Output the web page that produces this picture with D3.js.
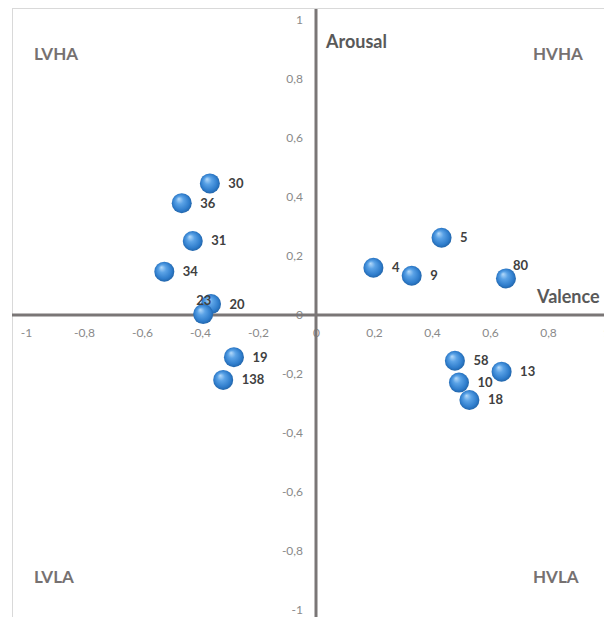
<!DOCTYPE html>
<html>
<head>
<meta charset="utf-8">
<script src="https://cdn.jsdelivr.net/npm/d3@7"></script>
<style>
  html, body { margin: 0; padding: 0; background: #fff; }
  svg { display: block; font-family: Lato, "Open Sans", sans-serif; }
</style>
</head>
<body>
<svg id="chart" width="604" height="617"></svg>
<script>
// ---- data ----
const pointLabels = ["30","36","31","34","20","23","19","138","5","4","9","80","58","13","10","18"];
const valence = [-0.366,-0.463,-0.425,-0.523,-0.362,-0.389,-0.283,-0.320,0.433,0.198,0.330,0.655,0.479,0.640,0.493,0.529];
const arousal = [0.446,0.379,0.251,0.147,0.037,0.003,-0.143,-0.220,0.262,0.160,0.133,0.124,-0.155,-0.192,-0.229,-0.288];
const xTicks = [-1,-0.8,-0.6,-0.4,-0.2,0,0.2,0.4,0.6,0.8,1];
const yTicks = [-1,-0.8,-0.6,-0.4,-0.2,0,0.2,0.4,0.6,0.8,1];
const quadrantNames = ["LVHA","HVHA","LVLA","HVLA"];
const axisNames = ["Arousal","Valence"];

const svg = d3.select("#chart");
const W = 604, H = 617;

const x = d3.scaleLinear().domain([-1, 1]).range([26, 606]);
const y = d3.scaleLinear().domain([-1, 1]).range([610, 20]);
const fmt = v => String(+v.toFixed(1)).replace(".", ",");

// frame
svg.append("rect").attr("x", 12.5).attr("y", 8.5).attr("width", 800).attr("height", 800)
  .attr("fill", "#fff").attr("stroke", "#d9d9d9").attr("stroke-width", 1);

// gradient
const defs = svg.append("defs");
const grad = defs.append("radialGradient").attr("id", "ball")
  .attr("cx", "50%").attr("cy", "50%").attr("r", "55%").attr("fx", "35%").attr("fy", "28%");
grad.append("stop").attr("offset", "0%").attr("stop-color", "#b5dafa");
grad.append("stop").attr("offset", "35%").attr("stop-color", "#5aa2e6");
grad.append("stop").attr("offset", "75%").attr("stop-color", "#2f7dcc");
grad.append("stop").attr("offset", "100%").attr("stop-color", "#1d5d9f");

// tick labels
const xAxis = svg.append("g").attr("transform", `translate(0,${y(0)})`)
  .call(d3.axisBottom(x).tickValues(xTicks).tickFormat(fmt).tickSize(0).tickPadding(13));
const yAxis = svg.append("g").attr("transform", `translate(${x(0)},0)`)
  .call(d3.axisLeft(y).tickValues(yTicks).tickFormat(fmt).tickSize(0).tickPadding(13));
[xAxis, yAxis].forEach(g => {
  g.select(".domain").remove();
  g.selectAll("text").attr("fill", "#8a8a8a").style("font-size", "12px")
    .style("font-family", "Lato, 'Open Sans', sans-serif");
});

// axis lines
svg.append("line").attr("x1", 12).attr("x2", W).attr("y1", y(0)).attr("y2", y(0))
  .attr("stroke", "#7a7676").attr("stroke-width", 3);
svg.append("line").attr("x1", x(0)).attr("x2", x(0)).attr("y1", 9).attr("y2", H)
  .attr("stroke", "#7a7676").attr("stroke-width", 3);

// quadrant labels
const quadPos = [[34, 60], [533, 60], [34, 583], [533, 583]];
quadrantNames.forEach((t, i) => {
  svg.append("text").attr("x", quadPos[i][0]).attr("y", quadPos[i][1]).text(t)
    .attr("fill", "#767171").style("font-size", "17px").style("font-weight", "bold");
});
const axisPos = [[326, 48], [537, 303]];
axisNames.forEach((t, i) => {
  svg.append("text").attr("x", axisPos[i][0]).attr("y", axisPos[i][1]).text(t)
    .attr("fill", "#595959").style("font-size", "18px").style("font-weight", "bold");
});

// points
const pts = pointLabels.map((l, i) => ({ label: l, vx: valence[i], vy: arousal[i] }));
svg.append("g").selectAll("circle").data(pts).join("circle")
  .attr("cx", d => x(d.vx)).attr("cy", d => y(d.vy)).attr("r", 10)
  .attr("fill", "url(#ball)");

// point labels
const special = { "23": [0.5, -9, "middle"], "80": [14.5, -8, "middle"] };
svg.append("g").selectAll("text").data(pts).join("text")
  .attr("x", d => x(d.vx) + (special[d.label] ? special[d.label][0] : 18.5))
  .attr("y", d => y(d.vy) + (special[d.label] ? special[d.label][1] : 4.5))
  .attr("text-anchor", d => special[d.label] ? special[d.label][2] : "start")
  .text(d => d.label)
  .attr("fill", "#404040").style("font-size", "13px").style("font-weight", "bold");
</script>
</body>
</html>
